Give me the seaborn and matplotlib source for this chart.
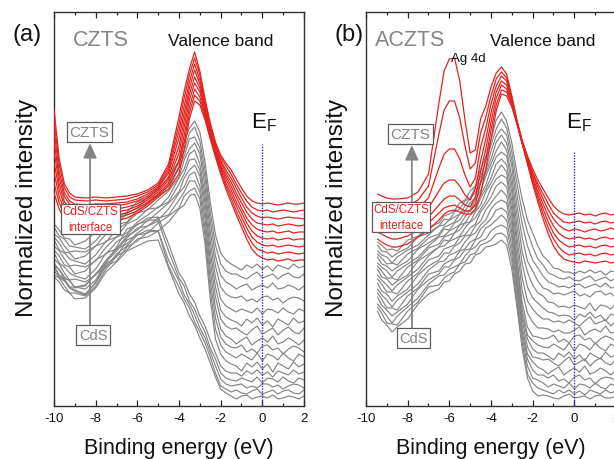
import matplotlib
matplotlib.use("Agg")
import matplotlib.pyplot as plt
import pandas as pd
import seaborn as sns

# ---------------- data (normalized intensity, arbitrary offset units) ----------------
energy_a = [-10, -9.75, -9.5, -9.25, -9, -8.5, -8, -7.5, -7, -6.5, -6, -5.5, -5, -4.5, -4,
            -3.75, -3.5, -3.25, -3, -2.75, -2.5, -2.25, -2, -1.75, -1.5, -1.25, -1, -0.75,
            -0.5, -0.25, 0, 0.25, 0.5, 0.75, 1, 1.25, 1.5, 1.75, 2]

a_red_0 = [290,240,215,206,202,201,202,201,202,203,205,209,216,235,282,308,330,347,328,300,276,257,244,236,229,220,211,203,198,196,195,196,195,194,195,196,195,195,196]
a_red_1 = [279,234,211,202,199,198,199,198,199,200,203,207,214,232,275,301,324,341,324,297,274,255,242,233,225,215,206,198,192,189,188,189,187,188,189,188,187,188,189]
a_red_2 = [269,227,206,198,195,194,195,195,196,197,200,205,212,229,268,293,317,335,319,295,272,253,239,229,221,211,201,192,186,183,181,182,181,180,181,182,181,181,180]
a_red_3 = [258,221,202,195,192,191,192,192,193,195,198,203,211,226,261,286,311,329,315,292,270,251,237,226,217,206,196,187,180,176,175,174,175,173,174,175,174,173,174]
a_red_4 = [248,215,197,191,188,187,188,188,190,192,195,201,209,222,253,279,305,322,311,289,268,249,234,223,213,202,191,181,174,170,168,167,168,166,167,168,166,167,167]
a_red_5 = [237,209,193,187,185,184,185,185,187,189,193,199,207,219,246,272,299,316,307,287,266,248,232,220,209,197,187,176,168,163,161,160,161,159,160,161,159,160,160]
a_red_6 = [227,202,189,183,182,181,182,182,184,186,191,197,205,216,239,264,292,310,302,284,264,246,230,216,205,193,182,171,162,157,154,153,154,152,153,154,153,152,153]
a_red_7 = [216,196,184,180,178,177,178,179,181,184,188,195,204,213,232,257,286,304,298,282,262,244,227,213,201,188,177,165,156,150,148,146,147,145,146,147,146,145,146]
a_red_8 = [206,190,180,176,175,174,175,176,178,181,186,193,202,210,225,250,280,298,294,279,260,242,225,210,197,184,172,160,150,144,141,139,140,138,139,140,138,139,139]

a_gray_0 = [175,169,161,160,154,158,167,170,181,187,197,201,210,221,238,257,271,278,267,237,197,164,146,139,135,132,129,134,131,135,130,133,128,134,132,130,135,131,133]
a_gray_1 = [172,163,160,153,152,150,158,171,174,186,191,202,202,215,237,248,266,272,258,229,187,154,135,128,125,125,122,120,124,127,121,123,125,120,124,126,122,121,125]
a_gray_2 = [165,161,153,147,148,147,153,165,174,177,189,196,203,210,231,243,260,262,251,221,178,143,124,117,114,110,113,115,109,112,114,111,116,110,111,114,112,109,113]
a_gray_3 = [162,156,147,146,140,143,153,157,169,176,186,189,199,208,222,239,250,256,245,212,168,133,112,105,102,101,103,98,100,97,102,103,99,101,96,100,102,101,98]
a_gray_4 = [159,149,146,140,138,135,144,158,162,175,180,190,191,202,221,230,245,249,235,204,158,122,100,93,90,87,90,88,86,91,85,90,89,86,91,87,85,90,88]
a_gray_5 = [153,148,140,133,134,132,138,152,162,166,177,184,192,197,215,225,239,240,229,196,148,112,89,82,79,77,73,80,76,81,74,78,72,80,77,74,81,76,78]
a_gray_6 = [149,143,134,132,125,128,139,145,157,164,175,178,187,196,207,221,229,234,223,188,139,102,80,73,70,71,67,64,69,73,65,68,71,64,69,72,67,65,71]
a_gray_7 = [146,136,132,126,123,120,130,146,150,163,169,179,179,190,206,212,224,227,213,180,129,91,70,63,60,55,59,62,54,58,61,57,63,55,57,61,58,54,59]
a_gray_8 = [140,135,126,119,120,117,124,139,150,155,166,173,181,184,199,207,218,218,207,171,119,81,62,55,52,51,54,47,50,46,53,54,49,51,45,50,53,51,47]
a_gray_9 = [136,129,120,119,111,113,125,132,145,153,164,166,176,183,191,203,208,211,200,163,110,70,54,47,44,41,45,42,39,46,38,45,43,39,46,41,38,45,42]
a_gray_10 = [133,123,119,112,109,105,116,133,138,152,158,167,168,177,190,194,203,205,191,155,100,60,45,38,35,33,28,36,32,37,30,35,27,36,33,30,37,32,35]
a_gray_11 = [133,130,122,118,112,114,125,136,152,170,174,181,182,155,126,118,105,97,83,73,59,46,33,28,26,26,23,28,25,29,24,27,22,28,26,24,29,25,27]
a_gray_12 = [133,124,120,112,112,110,119,137,148,161,171,173,178,148,121,113,98,90,77,67,51,40,26,21,19,18,21,19,17,22,16,21,20,17,22,18,16,21,19]
a_gray_13 = [129,121,118,111,108,104,117,135,142,159,164,169,168,139,118,104,95,84,71,61,47,33,20,15,13,14,15,11,13,11,15,15,12,14,10,13,15,14,11]
a_gray_14 = [124,121,113,106,106,103,113,130,143,149,160,162,168,133,112,100,91,77,67,56,42,26,13,10,7,9,6,5,8,10,5,7,9,5,8,9,6,5,9]
a_gray_15 = [122,117,109,106,100,101,111,127,137,148,153,158,159,131,105,96,83,74,61,50,36,22,10,6,3,0,3,4,0,2,3,1,4,0,1,3,2,0,3]

energy_b = [-9.45, -9.25, -9, -8.75, -8.5, -8, -7.5, -7, -6.5, -6.25, -6, -5.75, -5.5, -5.25, -5,
            -4.75, -4.5, -4.25, -4, -3.75, -3.5, -3.25, -3, -2.75, -2.5, -2.25, -2, -1.75, -1.5,
            -1.25, -1, -0.75, -0.5, -0.25, 0, 0.25, 0.5, 0.75, 1, 1.25, 1.5, 1.75, 2]

b_red_0 = [205,203,201,200,200,201,207,225,296,328,340,341,318,279,246,249,280,293,312,326,332,325,303,278,258,243,230,219,210,201,193,188,185,184,185,186,184,185,183,185,186,184,185]
b_red_1 = [197,195,193,192,192,193,199,213,265,289,298,298,281,253,230,236,266,282,303,320,327,321,301,278,258,242,227,215,205,195,186,181,177,176,177,178,176,177,175,177,178,176,177]
b_red_2 = [190,188,185,184,184,186,191,201,231,245,250,250,240,224,212,221,252,271,295,313,323,318,299,277,257,240,225,212,200,189,180,174,170,168,170,169,167,169,170,168,169,171,169]
b_red_3 = [182,180,177,176,176,178,183,191,208,216,219,219,213,204,199,210,238,260,286,307,318,314,297,276,256,239,222,208,195,183,173,166,162,160,161,162,160,161,159,161,162,160,161]
b_red_4 = [175,172,170,168,168,170,176,182,194,200,203,203,199,194,192,202,227,250,277,301,314,310,296,276,256,238,220,204,190,177,166,159,155,152,153,154,152,153,151,153,154,152,153]
b_red_5 = [167,165,162,160,160,163,169,176,186,191,193,194,191,188,188,195,216,240,269,294,309,307,294,275,255,236,217,201,185,171,160,152,147,144,145,146,144,145,143,145,146,144,145]
b_red_6 = [160,157,154,152,152,155,162,169,179,185,188,189,187,185,185,190,205,230,260,288,305,303,292,275,255,235,215,197,180,165,153,145,140,138,137,136,138,137,136,137,138,136,137]

b_gray_0 = [157,154,149,150,148,159,163,172,176,183,185,188,196,199,208,213,230,242,259,279,287,278,256,225,200,179,166,153,143,138,131,130,127,127,125,128,126,129,126,128,124,128,127]
b_gray_1 = [154,148,147,142,146,151,162,166,173,180,179,187,190,198,201,212,222,239,254,270,280,271,247,215,187,167,152,140,134,126,124,121,120,122,119,118,121,123,118,120,122,118,121]
b_gray_2 = [148,144,142,136,142,149,154,164,173,174,179,182,185,193,201,206,218,229,248,263,270,264,239,204,175,153,139,131,123,117,115,112,113,111,114,115,111,113,115,112,116,111,112]
b_gray_3 = [145,141,135,136,134,145,151,161,165,172,174,177,185,188,196,201,216,226,240,257,264,256,232,193,161,138,128,118,111,109,105,106,104,106,108,103,105,102,107,108,104,106,101]
b_gray_4 = [142,135,133,128,132,138,150,156,163,170,169,176,179,187,189,199,208,223,235,248,257,249,222,183,147,127,114,106,103,97,96,92,93,91,94,92,90,96,88,94,93,90,96]
b_gray_5 = [136,132,128,122,128,135,142,153,162,163,168,171,174,182,189,193,204,214,230,242,247,243,214,172,135,112,101,96,91,87,86,83,84,83,79,85,82,87,81,84,78,85,83]
b_gray_6 = [133,128,121,121,119,132,139,151,155,162,164,166,174,176,184,188,201,210,221,235,240,234,207,161,121,98,90,84,80,80,77,78,76,79,76,73,78,82,75,77,79,73,78]
b_gray_7 = [130,122,120,114,118,124,138,145,152,159,158,166,169,176,177,187,194,207,216,226,234,227,198,152,108,86,77,71,71,70,67,69,66,66,69,72,64,68,70,67,73,66,67]
b_gray_8 = [124,119,114,108,114,122,130,143,152,153,158,160,163,171,177,181,190,198,211,220,224,221,190,140,96,72,63,62,60,61,64,57,60,56,63,64,59,61,55,60,63,61,57]
b_gray_9 = [120,115,107,107,105,118,126,139,143,150,152,154,162,164,171,175,187,194,202,213,217,212,183,134,89,64,58,54,52,51,55,52,49,56,48,55,53,49,56,51,48,55,52]
b_gray_10 = [116,108,105,98,103,110,124,133,139,146,146,153,156,163,164,173,178,189,196,203,209,203,175,128,84,60,50,46,46,43,39,46,42,47,40,44,38,46,43,40,47,42,44]
b_gray_11 = [110,104,99,92,99,107,115,129,137,138,144,146,149,157,163,166,174,179,190,196,199,196,167,121,79,52,42,41,39,40,36,33,38,42,34,37,40,33,38,41,36,34,40]
b_gray_12 = [106,100,91,91,89,103,111,125,128,135,138,140,148,150,157,160,170,175,180,189,191,187,161,115,72,45,37,32,29,25,29,32,24,28,31,27,33,25,27,31,28,24,29]
b_gray_13 = [102,94,89,83,87,95,110,119,125,132,132,139,142,149,150,159,162,171,174,179,184,179,152,110,67,40,29,24,24,21,24,18,20,16,22,24,19,21,15,20,22,21,18]
b_gray_14 = [95,90,83,76,83,92,101,115,123,124,130,132,135,143,149,152,158,160,168,172,174,171,145,102,62,33,21,19,16,12,15,13,11,16,10,15,14,11,16,12,10,15,13]
b_gray_15 = [92,86,76,75,74,88,97,112,114,121,125,127,135,137,144,146,154,156,159,165,166,162,138,96,56,25,16,11,9,7,5,9,6,9,5,8,4,9,7,5,9,6,8]
b_gray_16 = [88,79,74,67,72,80,95,105,110,117,118,125,128,135,136,144,146,152,153,155,159,154,130,91,50,21,8,3,4,3,1,0,3,5,1,2,3,0,3,4,1,1,3]

tick_values = [-10, -8, -6, -4, -2, 0, 2]
tick_labels = ["-10", "-8", "-6", "-4", "-2", "0", "2"]
minor_values = [-9, -7, -5, -3, -1, 1]

red_a = [a_red_0, a_red_1, a_red_2, a_red_3, a_red_4, a_red_5, a_red_6, a_red_7, a_red_8]
gray_a = [a_gray_0, a_gray_1, a_gray_2, a_gray_3, a_gray_4, a_gray_5, a_gray_6, a_gray_7,
          a_gray_8, a_gray_9, a_gray_10, a_gray_11, a_gray_12, a_gray_13, a_gray_14, a_gray_15]
red_b = [b_red_0, b_red_1, b_red_2, b_red_3, b_red_4, b_red_5, b_red_6]
gray_b = [b_gray_0, b_gray_1, b_gray_2, b_gray_3, b_gray_4, b_gray_5, b_gray_6, b_gray_7, b_gray_8,
          b_gray_9, b_gray_10, b_gray_11, b_gray_12, b_gray_13, b_gray_14, b_gray_15, b_gray_16]

# ---------------- style ----------------
RED = "#e2231f"
GRAY = "#858585"
BOXEDGE = "#5c5c5c"
BLUE = "#2a2ad0"

sns.set_theme(style="ticks")
plt.rcParams["font.family"] = ["Liberation Sans", "DejaVu Sans"]
plt.rcParams["axes.unicode_minus"] = False
plt.rcParams["mathtext.default"] = "regular"


def long_frame(energy, curves, tag):
    parts = []
    for i, vals in enumerate(curves):
        parts.append(pd.DataFrame({"energy": energy, "intensity": vals, "curve": f"{tag}{i}"}))
    return pd.concat(parts, ignore_index=True)


def draw_panel(ax, energy, red, gray, sample, sample_x, ag, vb_x, ef_x, ef_top,
               box_czts, arrow_x, box_if, box_cds, ylab_x):
    sns.lineplot(data=long_frame(energy, gray, "g"), x="energy", y="intensity", units="curve",
                 estimator=None, color=GRAY, lw=0.85, ax=ax, legend=False, zorder=2)
    sns.lineplot(data=long_frame(energy, red, "r"), x="energy", y="intensity", units="curve",
                 estimator=None, color=RED, lw=0.9, ax=ax, legend=False, zorder=3)
    ax.set_xlim(-10, 2)
    ax.set_ylim(-7, 387)
    ax.set_yticks([])
    ax.set_xticks(tick_values)
    ax.set_xticklabels(tick_labels)
    ax.set_xticks(minor_values, minor=True)
    ax.tick_params(axis="x", which="both", direction="in", top=True, bottom=True,
                   labelsize=9.5, pad=4, colors="#222222", labelcolor="#111111")
    ax.tick_params(axis="x", which="major", length=4.5, width=0.9)
    ax.tick_params(axis="x", which="minor", length=2.5, width=0.9)
    for s in ax.spines.values():
        s.set_color("#333333")
        s.set_linewidth(1.0)
    ax.set_xlabel("Binding energy (eV)", fontsize=15.5, color="#111111")
    ax.set_ylabel("Normalized intensity", fontsize=17.5, color="#111111")
    ax.xaxis.set_label_coords(0.5, -0.078)
    ax.yaxis.set_label_coords(ylab_x, 0.505)

    # Fermi level marker
    ax.vlines(0, -7, ef_top, colors=BLUE, linestyles=(0, (1, 1)), lw=1.0, zorder=4)
    ax.text(ef_x, 272, r"$E_F$", fontsize=16, ha="left", va="baseline", color="#111111")

    ax.text(sample_x, 354, sample, fontsize=15.5, color=GRAY, ha="left", va="baseline")
    ax.text(vb_x, 354, "Valence band", fontsize=12.5, color="#111111", ha="left", va="baseline")
    if ag is not None:
        ax.text(ag[0], ag[1], "Ag 4d", fontsize=9.5, color="#111111", ha="left", va="baseline")

    # guides
    ax.vlines(arrow_x, box_cds[1], box_if[1], colors=GRAY, lw=1.3, zorder=5)
    ax.annotate("", xy=(arrow_x, box_czts[1] - 11), xytext=(arrow_x, box_if[1]),
                arrowprops=dict(arrowstyle="-|>,head_length=0.6,head_width=0.27", color=GRAY,
                                lw=1.3, mutation_scale=15, shrinkA=0, shrinkB=0), zorder=5)
    bb = dict(boxstyle="square,pad=0.18", fc="white", ec=BOXEDGE, lw=0.9)
    ax.text(box_czts[0], box_czts[1], "CZTS", fontsize=11, color=GRAY, ha="center",
            va="center", bbox=bb, zorder=6)
    ax.text(box_if[0], box_if[1], "CdS/CZTS\ninterface", fontsize=8.3, color=RED, ha="center",
            va="center", linespacing=1.45,
            bbox=dict(boxstyle="square,pad=0.12", fc="white", ec=BOXEDGE, lw=0.9), zorder=6)
    ax.text(box_cds[0], box_cds[1], "CdS", fontsize=10.5, color=GRAY, ha="center",
            va="center", bbox=bb, zorder=6)


W, H = 614, 460
fig = plt.figure(figsize=(W / 100, H / 100), dpi=100)
ax_a = fig.add_axes([54 / W, 53 / H, 250 / W, 394 / H])
ax_b = fig.add_axes([366 / W, 53 / H, 250 / W, 394 / H])

draw_panel(ax_a, energy_a, red_a, gray_a, "CZTS", -9.08, None, -4.51, -0.55, 255,
           (-8.31, 267), -8.27, (-8.24, 180), (-8.12, 64), -0.064)
draw_panel(ax_b, energy_b, red_b, gray_b, "ACZTS", -9.57, (-5.93, 338), -4.06, -0.42, 247,
           (-7.87, 265), -7.80, (-8.32, 182), (-7.72, 61), -0.072)

fig.text(13 / W, 1 - 41 / H, "(a)", fontsize=17, ha="left", va="baseline", color="#111111")
fig.text(334 / W, 1 - 41 / H, "(b)", fontsize=17, ha="left", va="baseline", color="#111111")

fig.savefig("out.png", dpi=100)
